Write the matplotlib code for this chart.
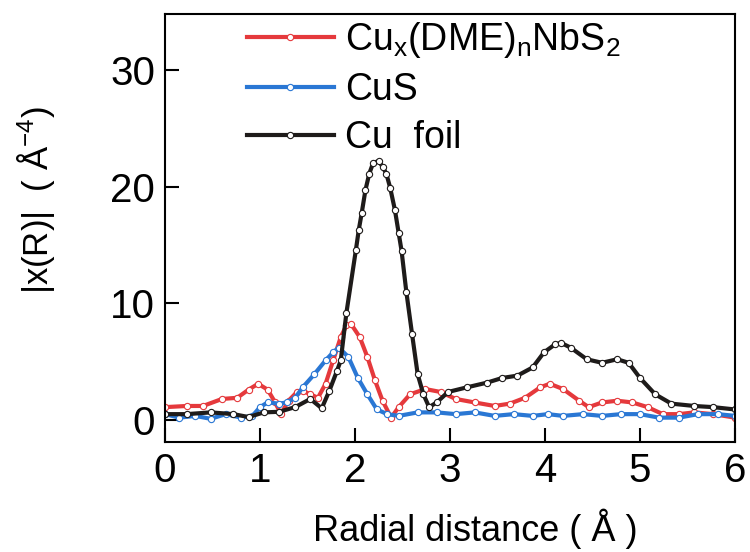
import numpy as np
import matplotlib
matplotlib.use('Agg')
import matplotlib.pyplot as plt

plt.rcParams['font.family'] = ['Liberation Sans', 'DejaVu Sans']
plt.rcParams['mathtext.fontset'] = 'custom'
plt.rcParams['mathtext.rm'] = 'Liberation Sans'
plt.rcParams['mathtext.it'] = 'Liberation Sans'

# Cu foil
r_cu = [0, 0.23, 0.48, 0.72, 0.88, 1.04, 1.2, 1.37, 1.53, 1.65, 1.73, 1.81, 1.85, 1.91,
        2.01, 2.04, 2.07, 2.11, 2.15, 2.19, 2.25, 2.29, 2.33, 2.37, 2.42, 2.46, 2.49,
        2.54, 2.6, 2.66, 2.72, 2.78, 2.86, 2.98, 3.18, 3.39, 3.55, 3.71, 3.87, 3.99,
        4.11, 4.17, 4.27, 4.44, 4.6, 4.76, 4.88, 5.0, 5.16, 5.33, 5.57, 5.77, 6.0]
v_cu = [0.5, 0.5, 0.65, 0.5, 0.25, 0.65, 0.7, 1.1, 1.8, 1.0, 2.5, 4.2, 5.1, 9.2,
        14.6, 16.3, 17.7, 19.7, 21.1, 22.0, 22.2, 21.7, 21.1, 19.9, 18.0, 16.0, 14.5,
        11.0, 7.4, 3.9, 2.2, 1.1, 1.5, 2.4, 2.8, 3.2, 3.6, 3.8, 4.5, 5.8,
        6.5, 6.6, 6.2, 5.2, 4.9, 5.2, 4.9, 3.6, 2.2, 1.4, 1.2, 1.1, 0.9]

# Cux(DME)nNbS2
r_dme = [0, 0.23, 0.4, 0.6, 0.76, 0.88, 0.98, 1.08, 1.16, 1.22, 1.3, 1.39, 1.45, 1.53,
         1.61, 1.69, 1.77, 1.85, 1.91, 1.96, 2.05, 2.13, 2.21, 2.29, 2.38, 2.46, 2.58,
         2.74, 2.9, 3.06, 3.26, 3.47, 3.63, 3.79, 3.95, 4.05, 4.19, 4.36, 4.46, 4.6,
         4.76, 4.92, 5.08, 5.24, 5.41, 5.57, 5.77, 6.0]
v_dme = [1.1, 1.2, 1.2, 1.8, 1.9, 2.6, 3.1, 2.6, 1.5, 0.5, 1.65, 2.4, 2.5, 2.2,
         1.9, 3.1, 5.1, 7.1, 8.1, 8.2, 7.1, 5.4, 3.4, 1.65, 0.2, 1.1, 2.2,
         2.65, 2.4, 1.8, 1.5, 1.2, 1.4, 1.9, 2.8, 3.1, 2.65, 1.65, 1.1, 1.5,
         1.65, 1.5, 1.1, 0.5, 0.5, 0.65, 0.5, 0.2]

# CuS
r_cus = [0, 0.15, 0.32, 0.48, 0.64, 0.8, 0.92, 1.0, 1.08, 1.2, 1.28, 1.37, 1.45, 1.57,
         1.69, 1.77, 1.83, 1.93, 2.03, 2.13, 2.23, 2.34, 2.46, 2.66, 2.86, 3.06, 3.26,
         3.47, 3.67, 3.87, 4.03, 4.19, 4.4, 4.6, 4.8, 5.0, 5.2, 5.41, 5.61, 5.82, 6.0]
v_cus = [0.5, 0.2, 0.35, 0.1, 0.5, 0.2, 0.35, 1.1, 1.5, 1.4, 1.5, 1.9, 2.8, 3.9,
         5.1, 5.8, 6.2, 5.4, 3.6, 2.2, 0.9, 0.5, 0.35, 0.65, 0.65, 0.5, 0.65,
         0.35, 0.5, 0.35, 0.5, 0.35, 0.5, 0.35, 0.5, 0.5, 0.2, 0.2, 0.5, 0.5, 0.35]

fig = plt.figure(figsize=(7.5, 5.52), dpi=100)
ax = fig.add_axes([0.22, 0.199, 0.76, 0.776])

series = [
    (r_dme, v_dme, '#e5393c', r'Cu$_\mathregular{x}$(DME)$_\mathregular{n}$NbS$_\mathregular{2}$'),
    (r_cus, v_cus, '#2a77d4', 'CuS'),
    (r_cu, v_cu, '#1e1b1a', 'Cu  foil'),
]
for r, v, c, lab in series:
    ax.plot(r, v, color=c, lw=3, marker='o', ms=4.5, mfc='white', mec=c, mew=0.8, label=lab)

ax.set_xlim(0, 6)
ax.set_ylim(-1.9, 34.8)
ax.set_xticks([0, 1, 2, 3, 4, 5, 6])
ax.set_yticks([0, 10, 20, 30])
ax.tick_params(direction='in', length=10, width=1.5, labelsize=29)
ax.tick_params(axis='x', pad=7)
ax.tick_params(axis='y', pad=7)
for s in ax.spines.values():
    s.set_linewidth(1.5)

ax.set_xlabel('Radial distance ( Å )', fontsize=26)
ax.xaxis.set_label_coords(0.544, -0.155)
ax.set_ylabel('|x(R)|  ( Å$^{-4}$)', fontsize=25)
ax.yaxis.set_label_coords(-0.19, 0.565)

ax.legend(loc='upper left', bbox_to_anchor=(0.118, 1.02), frameon=False, fontsize=27,
          handlelength=2.3, handletextpad=0.3, labelspacing=0.32, borderaxespad=0.0)

plt.savefig('out.png', dpi=100)
